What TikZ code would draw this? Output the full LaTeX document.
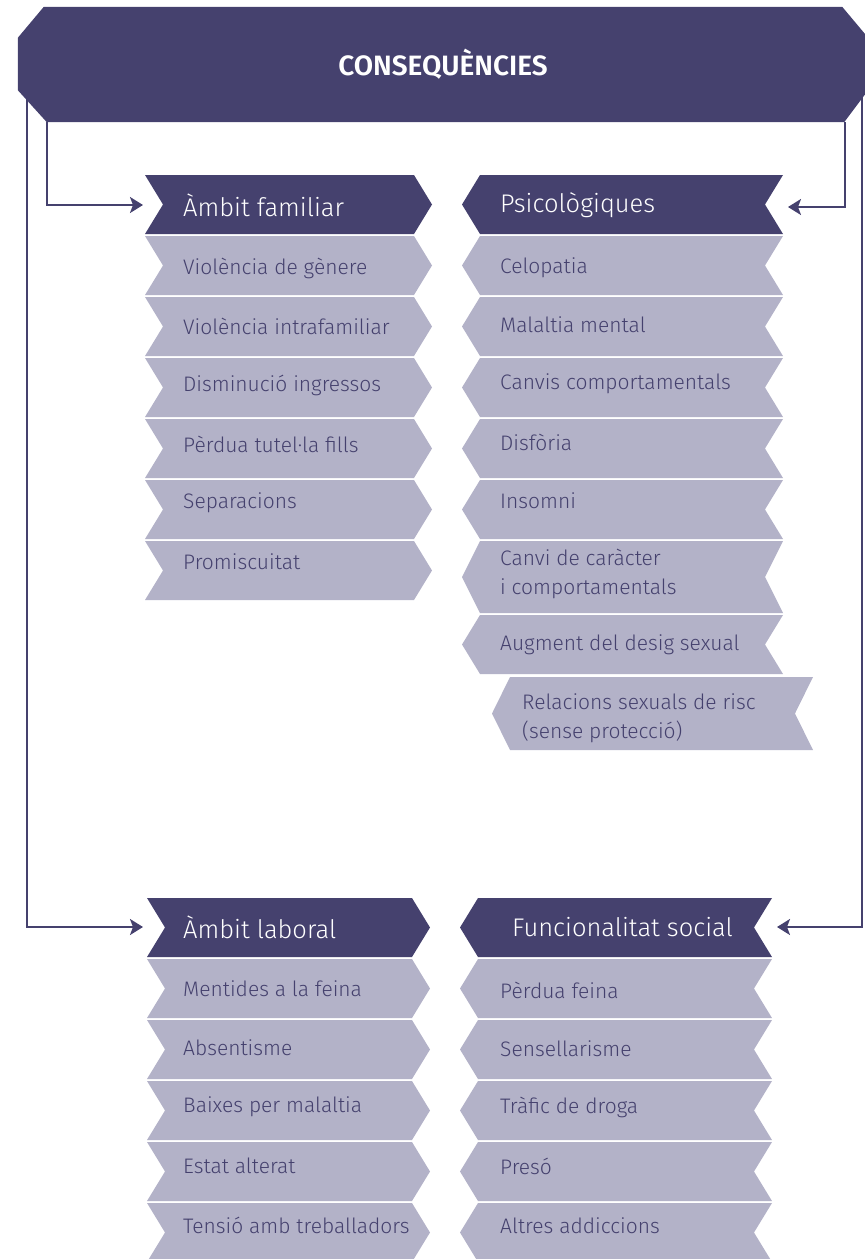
\documentclass[tikz,border=0pt]{standalone}
\usepackage{fontspec}
\setmainfont{Fira Sans Light}[BoldFont={Fira Sans SemiBold}]
\usetikzlibrary{arrows.meta,backgrounds}

\definecolor{fosc}{HTML}{45416E}
\definecolor{clar}{HTML}{B3B2C8}

\tikzset{
  item/.style={anchor=west,inner sep=0pt,text=fosc,align=left,
    font=\fontsize{21}{29}\selectfont},
  capcal/.style={anchor=west,inner sep=0pt,text=white,
    font=\fontsize{25.5}{30}\selectfont},
  fletxa/.style={draw=fosc,line width=2pt,
    -{Stealth[length=13pt,width=16pt,inset=3pt]}},
}

% fletxa cap a la dreta: x, y superior, amplada, alcada, color
\newcommand{\chevdreta}[5]{%
  \fill[#5] (#1,#2) -- ++(#3,0) -- ++(18,#4/2) -- ++(-18,#4/2)
    -- ++(-#3,0) -- ++(18,-#4/2) -- cycle;}
% fletxa cap a l'esquerra: x de la punta, y superior, amplada, alcada, color
\newcommand{\chevesq}[5]{%
  \fill[#5] (#1,#2+#4/2) -- ++(18,-#4/2) -- ++(#3,0) -- ++(-18,#4/2)
    -- ++(18,#4/2) -- ++(-#3,0) -- cycle;}

\begin{document}
\begin{tikzpicture}[x=1pt,y=-1pt]
\useasboundingbox (0,0) rectangle (865,1259);

\node[inner sep=0pt,minimum width=850pt,minimum height=115pt,text=white,
  font=\bfseries\fontsize{28}{32}\selectfont] (cons) at (443,64.5) {CONSEQUÈNCIES};

% capcaleres
\node[capcal] (fam) at (183,205) {Àmbit familiar};
\node[capcal] (psi) at (500,205) {Psicològiques};
\node[capcal] (lab) at (183,927) {Àmbit laboral};
\node[capcal] (soc) at (512,927) {Funcionalitat social};

% ambit familiar
\foreach \t [count=\i from 0] in {Violència de gènere,Violència intrafamiliar,
  Disminució ingressos,Pèrdua tutel·la fills,Separacions,Promiscuitat}
  \node[item] (fam-\i) at (183,268+58.8*\i) {\t};

% psicologiques
\foreach \y/\t [count=\i from 0] in {268/Celopatia,325/Malaltia mental,
  384/Canvis comportamentals,442/Disfòria,501/Insomni,
  573.5/{Canvi de caràcter\\i comportamentals},645/Augment del desig sexual}
  \node[item] (psi-\i) at (500,\y) {\t};
\node[item] (psi-7) at (522,718) {Relacions sexuals de risc\\(sense protecció)};

% ambit laboral
\foreach \t [count=\i from 0] in {Mentides a la feina,Absentisme,
  Baixes per malaltia,Estat alterat,Tensió amb treballadors}
  \node[item] (lab-\i) at (183,989+59*\i) {\t};

% funcionalitat social
\foreach \t [count=\i from 0] in {Pèrdua feina,Sensellarisme,
  Tràfic de droga,Presó,Altres addiccions}
  \node[item] (soc-\i) at (500,990+58.8*\i) {\t};

\coordinate (fam-in) at (143,205);
\coordinate (psi-in) at (788,207);
\coordinate (lab-in) at (143,927);
\coordinate (soc-in) at (777,927);

\begin{scope}[on background layer]
  \draw[fletxa] ([xshift=29pt]cons.south west) |- (fam-in);
  \draw[fletxa] ([xshift=9pt]cons.west) |- (lab-in);
  \draw[fletxa] ([xshift=-23pt]cons.south east) |- (psi-in);
  \draw[fletxa] ([xshift=-6pt]cons.east) |- (soc-in);

  \fill[fosc] ([xshift=26pt]cons.north west) -- ([xshift=-26pt]cons.north east)
    -- ([yshift=-31pt]cons.north east) -- ([yshift=32pt]cons.south east)
    -- ([xshift=-24pt]cons.south east) -- ([xshift=29pt]cons.south west)
    -- ([yshift=32pt]cons.south west) -- ([yshift=-31pt]cons.north west) -- cycle;

  % columna esquerra
  \chevdreta{145}{175}{269}{59}{fosc}
  \foreach \i in {1,...,6}
    {\chevdreta{145}{175+61*\i}{269}{59}{clar}}
  \chevdreta{147}{898}{265}{59}{fosc}
  \foreach \i in {1,...,5}
    {\chevdreta{147}{898+61*\i}{265}{59}{clar}}

  % columna dreta
  \chevesq{462}{175}{303}{59}{fosc}
  \foreach \i in {1,...,5}
    {\chevesq{462}{175+61*\i}{303}{59}{clar}}
  \chevesq{462}{541}{303}{72}{clar}
  \chevesq{462}{615}{303}{59}{clar}
  \chevesq{492}{677}{303}{73}{clar}
  \chevesq{460}{898}{294}{59}{fosc}
  \foreach \i in {1,...,5}
    {\chevesq{460}{898+61*\i}{294}{59}{clar}}
\end{scope}
\end{tikzpicture}
\end{document}
